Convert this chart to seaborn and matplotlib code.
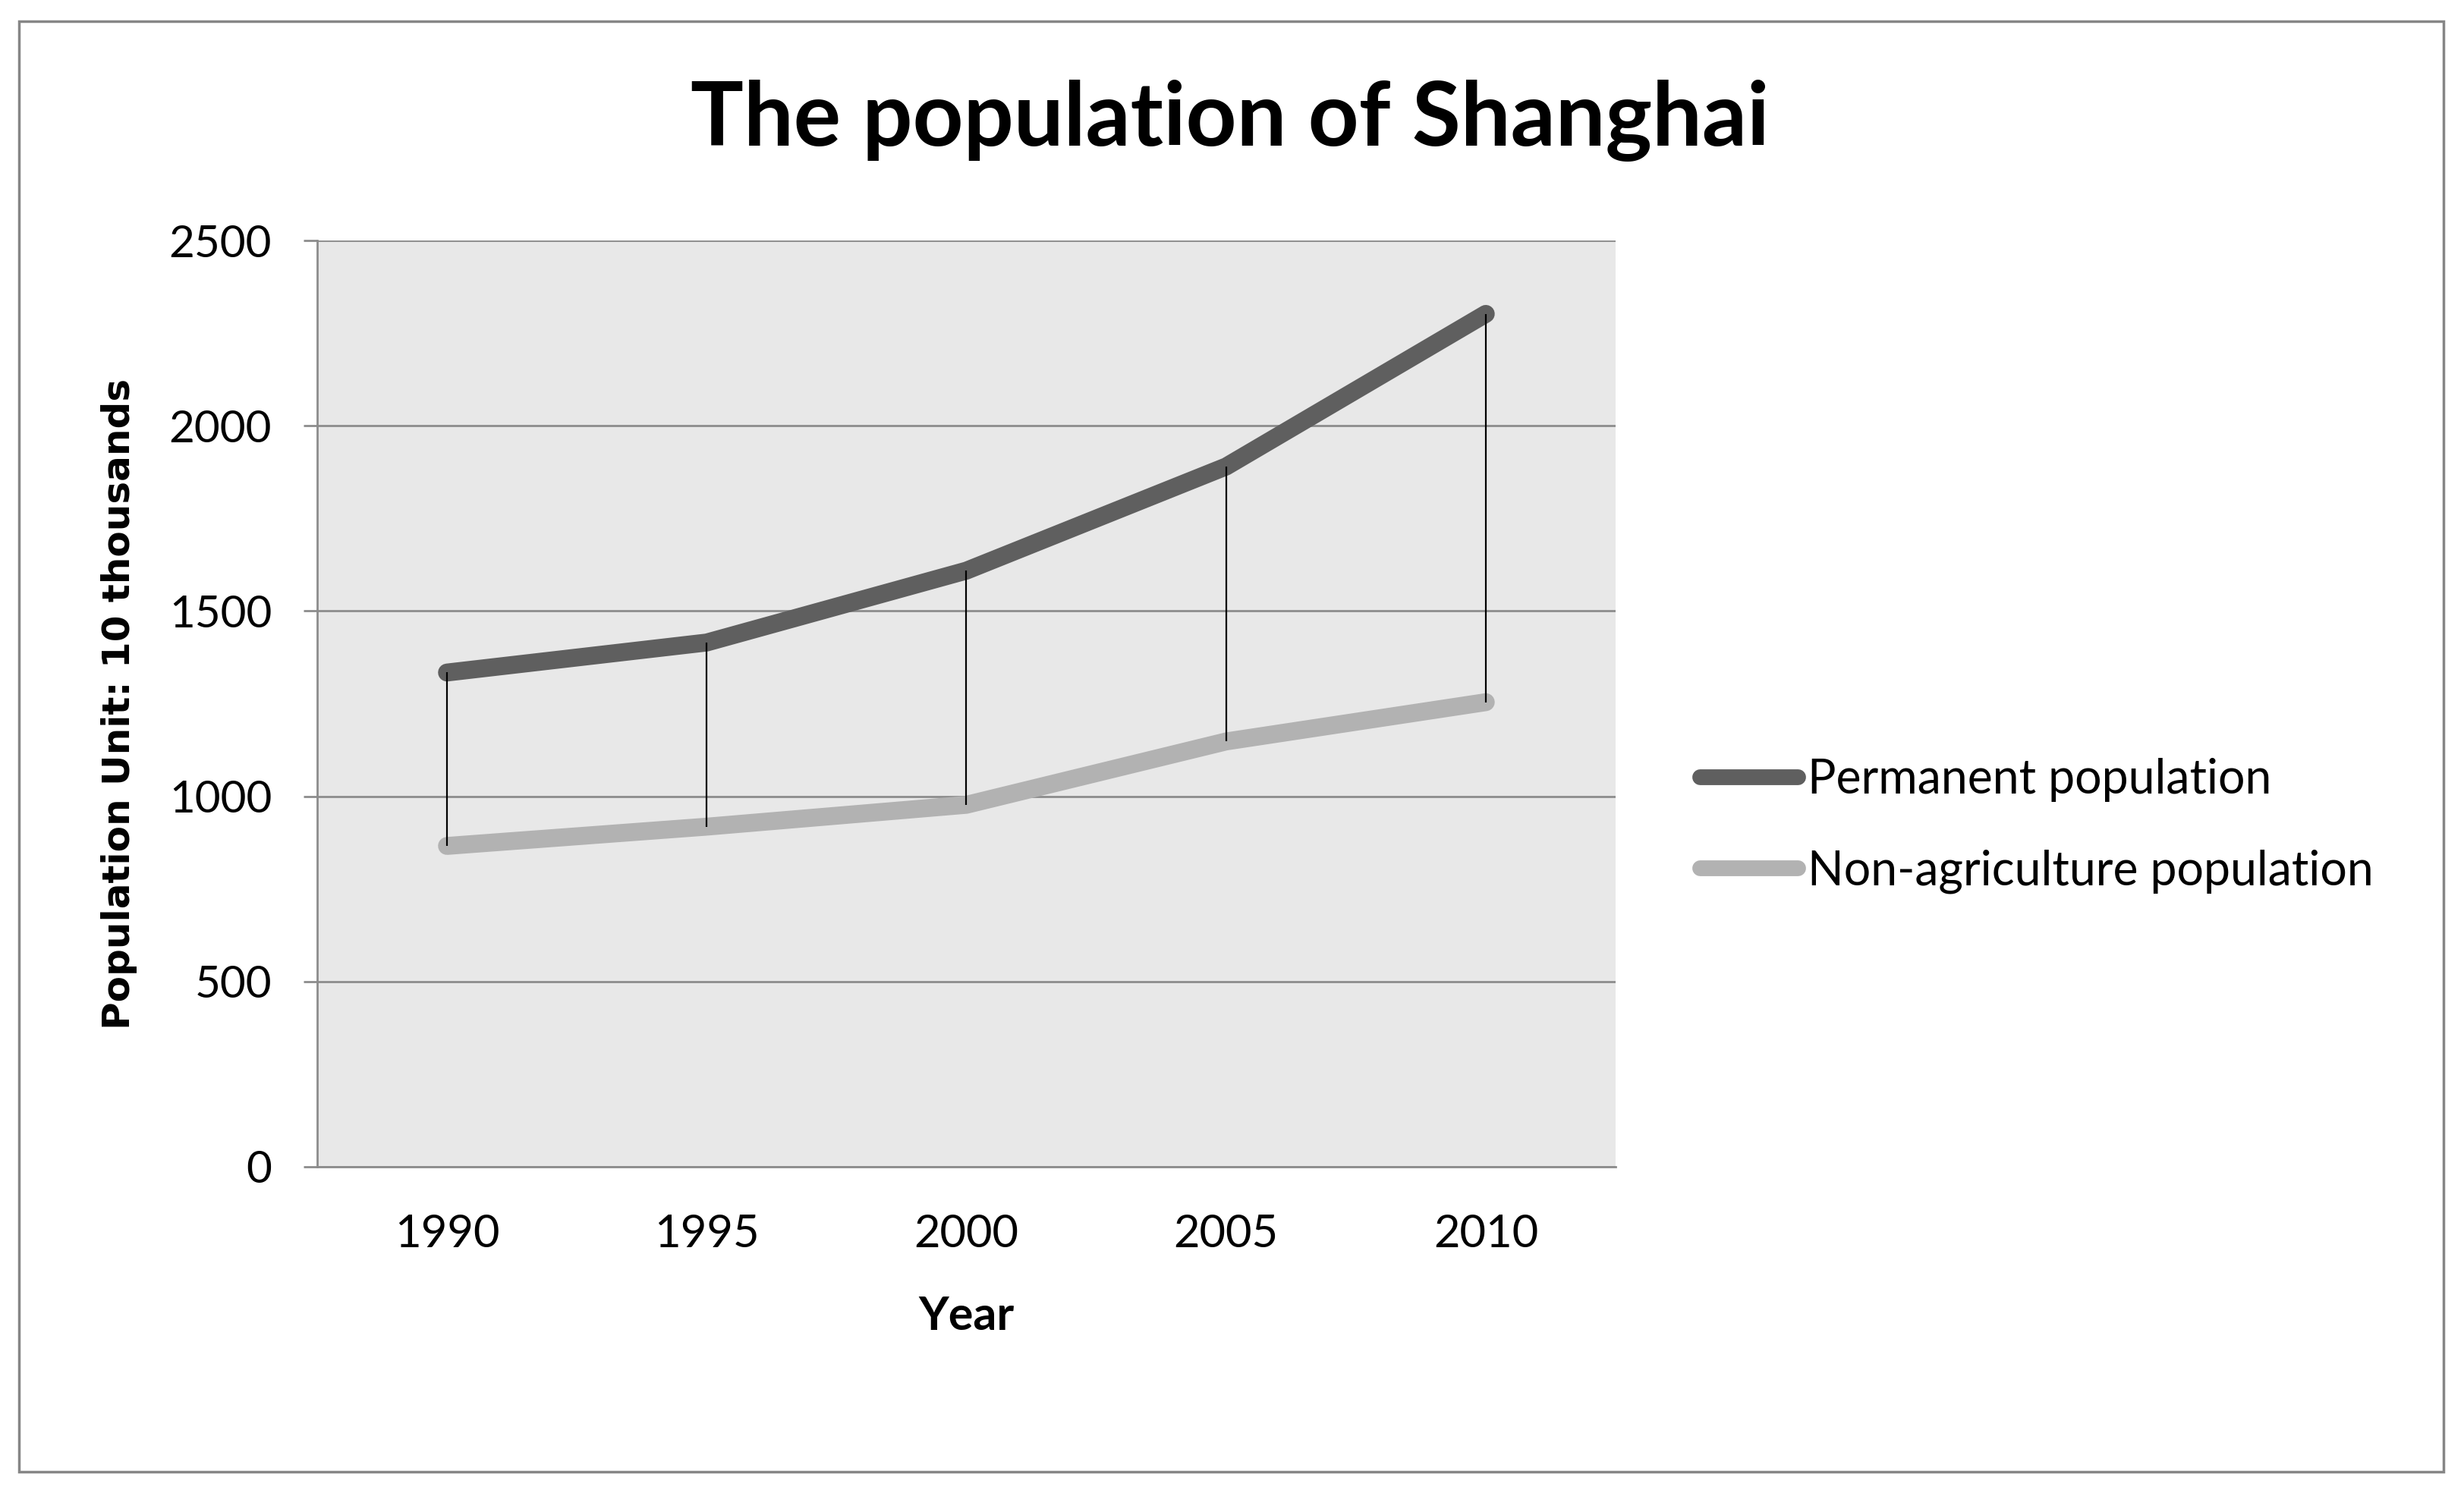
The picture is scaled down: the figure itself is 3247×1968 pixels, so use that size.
import pandas as pd
import seaborn as sns
import matplotlib.pyplot as plt
from matplotlib.patches import Rectangle

# data (unit: 10 thousand people)
years = [1990, 1995, 2000, 2005, 2010]
permanent = [1334, 1415, 1609, 1890, 2302]
non_agri = [866, 918, 977, 1148, 1254]
series_names = ["Permanent population", "Non-agriculture population"]
y_ticks = [0, 500, 1000, 1500, 2000, 2500]

df = pd.DataFrame({
    "Year": years * 2,
    "Population": permanent + non_agri,
    "Series": [series_names[0]] * len(years) + [series_names[1]] * len(years),
})

sns.set_theme(style="white")
plt.rcParams["font.family"] = ["Lato", "DejaVu Sans"]
plt.rcParams["text.color"] = "black"
plt.rcParams["axes.labelcolor"] = "black"

fig = plt.figure(figsize=(32.47, 19.68), dpi=100)
ax = fig.add_axes([0.1287, 0.2185, 0.527, 0.6204])
ax.set_facecolor("#e8e8e8")

# high-low lines between the two series
ax.vlines(years, non_agri, permanent, color="black", linewidth=1.6, zorder=3)

sns.lineplot(
    data=df, x="Year", y="Population", hue="Series",
    palette=["#5f5f5f", "#b2b2b2"], linewidth=17,
    solid_capstyle="round", ax=ax, zorder=2,
)

ax.set_xlim(1987.5, 2012.5)
ax.set_ylim(0, 2500)
ax.set_xticks(years)
ax.set_yticks(y_ticks)
ax.grid(axis="y", color="#8c8c8c", linewidth=2)
ax.set_axisbelow(True)

for side in ["top", "right"]:
    ax.spines[side].set_visible(False)
for side in ["left", "bottom"]:
    ax.spines[side].set_color("#8c8c8c")
    ax.spines[side].set_linewidth(2)

ax.tick_params(axis="y", length=13, width=2, color="#8c8c8c", pad=30,
               labelsize=42, labelcolor="black", left=True)
ax.tick_params(axis="x", length=0, pad=45, labelsize=43, labelcolor="black")

ax.set_xlabel("Year", fontsize=44, fontweight="bold", labelpad=38)
ax.set_ylabel("Population Unit: 10 thousands", fontsize=36, fontweight="bold",
              family="DejaVu Sans", labelpad=30)

fig.text(0.4993, 0.919, "The population of Shanghai", ha="center", va="center",
         fontsize=84, fontweight="bold", color="black")

leg = ax.legend(
    loc="center left", bbox_to_anchor=(0.690, 0.447),
    bbox_transform=fig.transFigure, frameon=False, fontsize=45,
    handlelength=2.05, handletextpad=0.22, labelspacing=1.0,
    borderpad=0, borderaxespad=0,
)
for line in leg.get_lines():
    line.set_linewidth(15)
    line.set_solid_capstyle("round")

# outer chart border
fig.patches.append(Rectangle((25 / 3247, 28 / 1968), 3195 / 3247, 1912 / 1968,
                             transform=fig.transFigure, fill=False,
                             edgecolor="#868686", linewidth=2.5))

plt.savefig("out.png", dpi=100)
